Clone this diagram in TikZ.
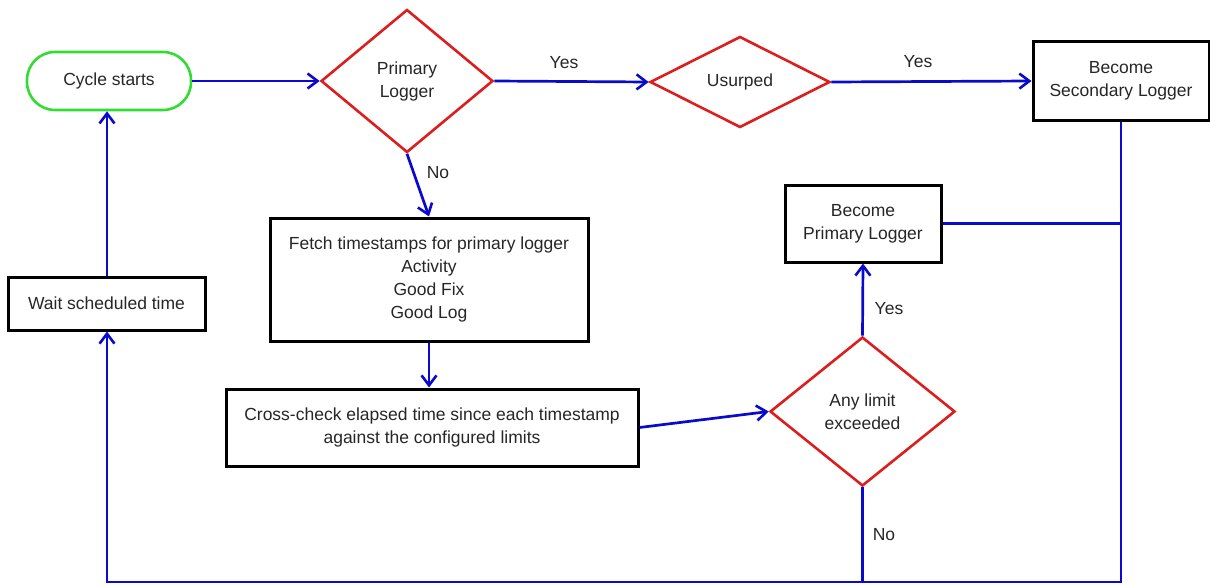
\documentclass[tikz,border=0pt]{standalone}
\usepackage{fontspec}
\setmainfont{Liberation Sans}
\usetikzlibrary{shapes.geometric,arrows.meta}
\definecolor{flowblue}{RGB}{10,10,205}
\definecolor{flowred}{RGB}{220,30,30}
\definecolor{flowgreen}{RGB}{50,220,50}
\begin{document}
\begin{tikzpicture}[x=1pt,y=-1pt,
  every node/.style={font=\fontsize{17.5}{23}\selectfont, text=black!85},
  procbox/.style={draw=black, line width=3pt, rectangle, inner sep=0pt, align=center},
  decision/.style={draw=flowred, line width=2.6pt, diamond, inner sep=0pt, align=center},
  startbox/.style={draw=flowgreen, line width=2.6pt, rectangle, rounded corners=28pt, inner sep=0pt, align=center},
  conn/.style={draw=flowblue, line width=2.7pt},
  arr/.style={conn, -{Straight Barb[length=10pt,width=15pt,line width=2.6pt]}},
  lbl/.style={inner sep=0pt}
]
\useasboundingbox (0,0) rectangle (1210,586);

\node[startbox, minimum width=164pt, minimum height=58pt] (cycle) at (109,81) {Cycle starts};
\node[decision, minimum width=172pt, minimum height=143pt] (primary) at (407,81) {Primary\\Logger};
\node[decision, minimum width=180pt, minimum height=91pt] (usurped) at (740,82) {Usurped};
\node[procbox, minimum width=176pt, minimum height=78pt] (secondary) at (1121,81) {Become\\Secondary Logger};
\node[procbox, minimum width=156pt, minimum height=77pt] (primpl) at (863,223.5) {Become\\Primary Logger};
\node[procbox, minimum width=318pt, minimum height=123pt] (fetch) at (429,279.5) {Fetch timestamps for primary logger\\Activity\\Good Fix\\Good Log};
\node[procbox, minimum width=197pt, minimum height=53pt] (wait) at (106.5,303.5) {Wait scheduled time};
\node[procbox, minimum width=412pt, minimum height=77pt] (cross) at (432,427.5) {Cross-check elapsed time since each timestamp\\against the configured limits};
\node[decision, minimum width=185pt, minimum height=149pt] (limit) at (862.5,411.5) {Any limit\\exceeded};

\coordinate (bl) at (107,582);
\coordinate (br) at (1121,582);

\draw[arr] (cycle.east) -- (primary.west);
\draw[arr] (primary.east) -- (usurped.west);
\node[lbl] (yes1) at (564,63) {Yes};
\draw[arr] (usurped.east) -- (secondary.west);
\node[lbl] (yes2) at (918,62) {Yes};
\draw[arr] (primary.south) -- (fetch.north);
\node[lbl] (no1) at (438,173) {No};
\draw[arr] (fetch.south) -- (fetch.south |- cross.north);
\draw[arr] (cross.east) -- (limit.west);
\draw[arr] (limit.north) -- (primpl.south);
\node[lbl] (yes3) at (889,309) {Yes};
\draw[conn] (limit.south) -- (limit.south |- bl);
\node[lbl] (no2) at (884,535) {No};
\draw[conn] (primpl.east) -- (primpl.east -| br);
\draw[arr] (secondary.south) -- (br) -- (bl) -- (wait.south -| bl);
\draw[arr] (wait.north -| bl) -- (cycle.south -| bl);
\end{tikzpicture}
\end{document}
